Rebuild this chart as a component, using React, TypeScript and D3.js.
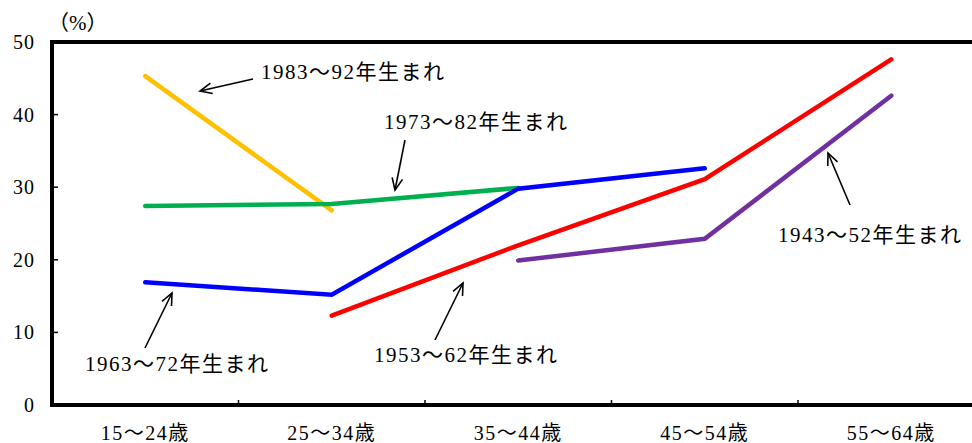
import React from 'react';
import * as d3 from 'd3';

const categories = ['15〜24歳', '25〜34歳', '35〜44歳', '45〜54歳', '55〜64歳'];
const yTicks = [0, 10, 20, 30, 40, 50];

const cohort1983 = [45.3, 26.8, null, null, null];
const cohort1973 = [27.4, 27.7, 29.9, null, null];
const cohort1963 = [16.9, 15.2, 29.8, 32.6, null];
const cohort1953 = [null, 12.3, 22.0, 31.1, 47.6];
const cohort1943 = [null, null, 19.9, 22.9, 42.6];

const seriesNames = ['1983〜92年生まれ', '1973〜82年生まれ', '1963〜72年生まれ', '1953〜62年生まれ', '1943〜52年生まれ'];
const seriesValues = [cohort1983, cohort1973, cohort1963, cohort1953, cohort1943];
const seriesColors = ['#FFC000', '#00B050', '#0000FF', '#FF0000', '#7030A0'];

// label placement: text anchor point and arrow (from -> to)
const labelLayout = [
  { tx: 261, ty: 72, x1: 253, y1: 79, x2: 200, y2: 91 },
  { tx: 384, ty: 122, x1: 405, y1: 140, x2: 395, y2: 190 },
  { tx: 85, ty: 364, x1: 145, y1: 348, x2: 172, y2: 293 },
  { tx: 374, ty: 355, x1: 435, y1: 340, x2: 463, y2: 283 },
  { tx: 778, ty: 235, x1: 850, y1: 205, x2: 828, y2: 153 },
];

const W = 972;
const H = 443;
const left = 52;
const top = 42;
const bottom = 405;
const bandW = 186.5;

const FONT = '"Liberation Serif", "DejaVu Serif", "Noto Sans CJK JP", serif';

export default function App() {
  const x = d3
    .scaleBand<string>()
    .domain(categories)
    .range([left, left + bandW * categories.length])
    .padding(0);
  const y = d3.scaleLinear().domain([0, 50]).range([bottom, top]);
  const cx = (c: string) => (x(c) as number) + x.bandwidth() / 2;

  const line = d3
    .line<number | null>()
    .defined((d) => d !== null)
    .x((_, i) => cx(categories[i]))
    .y((d) => y(d as number));

  const right = left + bandW * categories.length;

  const arrowHead = (x1: number, y1: number, x2: number, y2: number) => {
    const ang = Math.atan2(y1 - y2, x1 - x2);
    const len = 13;
    const spread = 0.42;
    const a = [x2 + len * Math.cos(ang + spread), y2 + len * Math.sin(ang + spread)];
    const b = [x2 + len * Math.cos(ang - spread), y2 + len * Math.sin(ang - spread)];
    return `M${a[0]},${a[1]}L${x2},${y2}L${b[0]},${b[1]}`;
  };

  return (
    <svg
      width={W}
      height={H}
      style={{ position: 'absolute', left: 0, top: 0, background: '#fff' }}
      fontFamily={FONT}
    >
      <rect x={0} y={0} width={W} height={H} fill="#fff" />
      {/* y tick marks and labels */}
      {yTicks.map((t) => (
        <g key={t}>
          {t > 0 && t < 50 && (
            <line x1={left} x2={left + 6} y1={y(t)} y2={y(t)} stroke="#000" strokeWidth={1.5} />
          )}
          <text
            x={35}
            y={y(t)}
            textAnchor="end"
            dominantBaseline="central"
            fontSize={20}
            letterSpacing={1}
            fill="#000"
          >
            {t}
          </text>
        </g>
      ))}
      <text x={48} y={23} dominantBaseline="central" fontSize={21} fill="#000">
        （%）
      </text>
      {/* x tick marks between categories */}
      {categories.slice(1).map((c) => (
        <line key={c} x1={x(c)} x2={x(c)} y1={bottom} y2={bottom - 5} stroke="#000" strokeWidth={1.5} />
      ))}
      {categories.map((c) => (
        <text
          key={c}
          x={cx(c)}
          y={433}
          textAnchor="middle"
          dominantBaseline="central"
          fontSize={20}
          letterSpacing={1.5}
          fill="#000"
        >
          {c}
        </text>
      ))}
      {/* plot frame */}
      <path
        d={`M${right},${top}H${left}V${bottom}H${right}`}
        fill="none"
        stroke="#000"
        strokeWidth={4}
        strokeLinejoin="miter"
      />
      {/* cohort lines */}
      {seriesValues.map((vals, i) => (
        <path
          key={seriesNames[i]}
          d={line(vals) || ''}
          fill="none"
          stroke={seriesColors[i]}
          strokeWidth={4.5}
          strokeLinecap="round"
          strokeLinejoin="miter"
        />
      ))}
      {/* cohort labels with arrows */}
      {labelLayout.map((l, i) => (
        <g key={seriesNames[i]}>
          <line x1={l.x1} y1={l.y1} x2={l.x2} y2={l.y2} stroke="#000" strokeWidth={1.6} />
          <path d={arrowHead(l.x1, l.y1, l.x2, l.y2)} fill="none" stroke="#000" strokeWidth={1.6} />
          <text
            x={l.tx}
            y={l.ty}
            dominantBaseline="central"
            fontSize={21}
            letterSpacing={1.5}
            fill="#000"
          >
            {seriesNames[i]}
          </text>
        </g>
      ))}
    </svg>
  );
}
